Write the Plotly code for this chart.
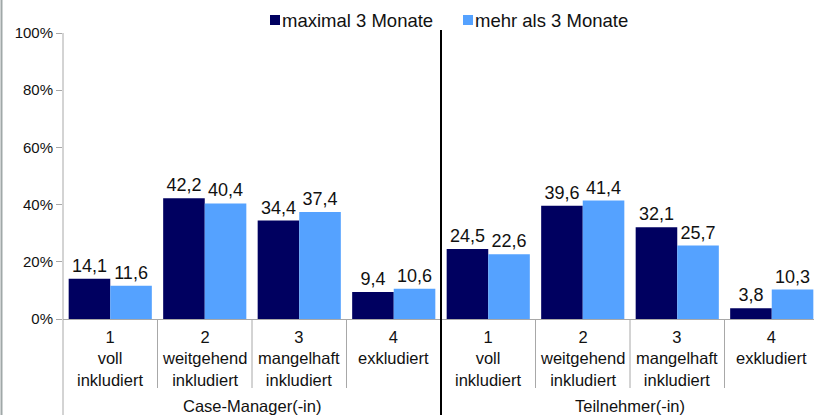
import plotly.graph_objects as go

categories = ["1<br>voll<br>inkludiert", "2<br>weitgehend<br>inkludiert",
              "3<br>mangelhaft<br>inkludiert", "4<br>exkludiert"] * 2
groups = ["Case-Manager(-in)", "Teilnehmer(-in)"]
series_names = ["maximal 3 Monate", "mehr als 3 Monate"]
max3 = [14.1, 42.2, 34.4, 9.4, 24.5, 39.6, 32.1, 3.8]
more3 = [11.6, 40.4, 37.4, 10.6, 22.6, 41.4, 25.7, 10.3]
y_ticks = [0, 20, 40, 60, 80, 100]
y_tick_labels = ["0%", "20%", "40%", "60%", "80%", "100%"]

colors = ["#000060", "#55a2ff"]
FONT = "Liberation Sans, Arial, sans-serif"
TXT = "#111111"
W, H = 814, 415
ML, MR, MT, MB = 63, 0, 33, 96
plot_w = W - ML - MR
plot_h = H - MT - MB

def px_x(px):
    return (px - ML) / plot_w

def px_y(py):
    return (H - MB - py) / plot_h

xs = list(range(len(categories)))
fmt = lambda v: f"{v:.1f}".replace(".", ",")

fig = go.Figure()
for name, vals, col in zip(series_names, [max3, more3], colors):
    fig.add_trace(go.Bar(
        x=xs, y=vals, name=name, marker=dict(color=col, line=dict(width=0)),
        text=[fmt(v) for v in vals], textposition="outside",
        textfont=dict(family=FONT, size=18, color=TXT),
        cliponaxis=False, showlegend=False, hoverinfo="skip",
    ))

ncat = len(categories)
step_px = 94.5
xmax = (plot_w / step_px) - 0.5

shapes = []
for i in range(1, ncat):
    if i == ncat // 2:
        continue
    shapes.append(dict(type="line", xref="x", yref="paper", x0=i - 0.5, x1=i - 0.5,
                       y0=px_y(388), y1=0, line=dict(color="#a8a8a8", width=1)))
mid = ncat // 2 - 0.5
shapes.append(dict(type="line", xref="x", yref="paper", x0=mid, x1=mid,
                   y0=px_y(H + 2), y1=px_y(30), line=dict(color="#000000", width=2)))
shapes.append(dict(type="line", xref="paper", yref="paper", x0=0, x1=0,
                   y0=px_y(H + 2), y1=1, line=dict(color="#a8a8a8", width=1)))
shapes.append(dict(type="line", xref="paper", yref="paper", x0=px_x(1.5), x1=px_x(1.5),
                   y0=px_y(H + 2), y1=px_y(-2), line=dict(color="#a0a8a8", width=2)))

annotations = []
for i, c in enumerate(categories):
    annotations.append(dict(x=i, y=0, xref="x", yref="paper", yanchor="top", yshift=-7,
                            text=c, showarrow=False, align="center",
                            font=dict(family=FONT, size=16.5, color=TXT)))
for g, name in enumerate(groups):
    center = g * (ncat // 2) + (ncat // 2 - 1) / 2
    annotations.append(dict(x=center, y=px_y(406), xref="x", yref="paper", yanchor="middle",
                            text=name, showarrow=False,
                            font=dict(family=FONT, size=16.5, color=TXT)))

legend_pos = [270, 463]
for name, col, lx in zip(series_names, colors, legend_pos):
    shapes.append(dict(type="rect", xref="paper", yref="paper",
                       x0=px_x(lx), x1=px_x(lx + 10), y0=px_y(25), y1=px_y(15),
                       fillcolor=col, line=dict(width=0)))
    annotations.append(dict(x=px_x(lx + 10), y=px_y(20), xref="paper", yref="paper",
                            xanchor="left", yanchor="middle", text=name, showarrow=False,
                            font=dict(family=FONT, size=18.5, color=TXT)))

fig.update_layout(
    width=W, height=H,
    margin=dict(l=ML, r=MR, t=MT, b=MB, autoexpand=False),
    paper_bgcolor="white", plot_bgcolor="white",
    barmode="group", bargap=0.12, bargroupgap=0,
    font=dict(family=FONT, size=15, color=TXT),
    showlegend=False, hovermode=False,
    xaxis=dict(range=[-0.5, xmax], showticklabels=False, showgrid=False, zeroline=False,
               showline=True, linecolor="#a8a8a8", linewidth=1, ticks="", automargin=False),
    yaxis=dict(range=[0, 100], tickvals=y_ticks, ticktext=y_tick_labels, showgrid=False,
               zeroline=False, showline=False, ticks="outside", ticklen=6, automargin=False,
               tickcolor="#a8a8a8", tickfont=dict(family=FONT, size=15, color=TXT)),
    shapes=shapes, annotations=annotations,
)
fig.write_html("out.html", config={"displayModeBar": False, "staticPlot": True},
               post_script="document.body.style.margin='0';document.body.style.overflow='hidden';")
